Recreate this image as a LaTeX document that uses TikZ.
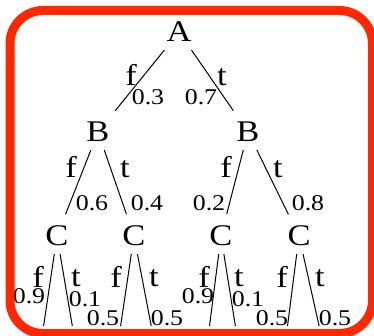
\documentclass[tikz,border=0pt]{standalone}
\usepackage{fontspec}
\setmainfont{Liberation Serif}
\usepackage{tikz}
\definecolor{framered}{RGB}{255,40,0}
\tikzset{
  vertex/.style={
    font=\fontsize{30}{30}\selectfont, xscale=1.15,
    text height=20pt, text depth=0pt, inner sep=8pt, outer sep=0pt
  },
  branch/.style={font=\fontsize{30}{30}\selectfont, xscale=1.15, inner sep=0pt},
  prob/.style={font=\fontsize{22.5}{22.5}\selectfont, xscale=1.15, inner sep=0pt},
  link/.style={draw, line width=1pt, shorten >=4pt},
}

\begin{document}
\begin{tikzpicture}[x=1pt, y=-1pt]
  \useasboundingbox (0,0) rectangle (374,336);

  % Nodes
  \node[vertex] (A) at (179,32) {A};
  \node[vertex] (B1) at (98,132) {B};
  \node[vertex] (B2) at (248,132) {B};
  \node[vertex] (C1) at (57,236) {C};
  \node[vertex] (C2) at (134,236) {C};
  \node[vertex] (C3) at (221,236) {C};
  \node[vertex] (C4) at (299,236) {C};

  % Leaf ends
  \coordinate (L1) at (43,330);
  \coordinate (L2) at (73,330);
  \coordinate (L3) at (120,330);
  \coordinate (L4) at (152,330);
  \coordinate (L5) at (209,330);
  \coordinate (L6) at (236,330);
  \coordinate (L7) at (287,330);
  \coordinate (L8) at (320,330);

  % Edges
  \draw[link] (A) -- (B1);
  \draw[link] (A) -- (B2);
  \draw[link] (B1) -- (C1);
  \draw[link] (B1) -- (C2);
  \draw[link] (B2) -- (C3);
  \draw[link] (B2) -- (C4);
  \draw[link] (C1) -- (L1);
  \draw[link] (C1) -- (L2);
  \draw[link] (C2) -- (L3);
  \draw[link] (C2) -- (L4);
  \draw[link] (C3) -- (L5);
  \draw[link] (C3) -- (L6);
  \draw[link] (C4) -- (L7);
  \draw[link] (C4) -- (L8);

  % Level 1 labels
  \node[branch] (fA) at (131,75) {f};
  \node[branch] (tA) at (222,77) {t};
  \node[prob] (pfA) at (148,97) {0.3};
  \node[prob] (ptA) at (201,97) {0.7};

  % Level 2 labels
  \node[branch] (fB1) at (71,167) {f};
  \node[branch] (tB1) at (125,169) {t};
  \node[prob] (pfB1) at (92,203) {0.6};
  \node[prob] (ptB1) at (147,203) {0.4};
  \node[branch] (fB2) at (226,167) {f};
  \node[branch] (tB2) at (278,169) {t};
  \node[prob] (pfB2) at (209,203) {0.2};
  \node[prob] (ptB2) at (308,203) {0.8};

  % Level 3 labels
  \node[branch] (fC1) at (38,277) {f};
  \node[branch] (tC1) at (76,278) {t};
  \node[prob] (pfC1) at (29,296) {0.9};
  \node[prob] (ptC1) at (85,299) {0.1};
  \node[branch] (fC2) at (116,277) {f};
  \node[branch] (tC2) at (154,278) {t};
  \node[prob] (pfC2) at (103,318) {0.5};
  \node[prob] (ptC2) at (167,318) {0.5};
  \node[branch] (fC3) at (204,277) {f};
  \node[branch] (tC3) at (239,278) {t};
  \node[prob] (pfC3) at (198,296) {0.9};
  \node[prob] (ptC3) at (248,299) {0.1};
  \node[branch] (fC4) at (282,277) {f};
  \node[branch] (tC4) at (320,278) {t};
  \node[prob] (pfC4) at (272,318) {0.5};
  \node[prob] (ptC4) at (335,318) {0.5};

  % Frame
  \draw[framered, line width=9pt, rounded corners=33pt] (10,10.5) rectangle (372.5,333.5);

\end{tikzpicture}
\end{document}
